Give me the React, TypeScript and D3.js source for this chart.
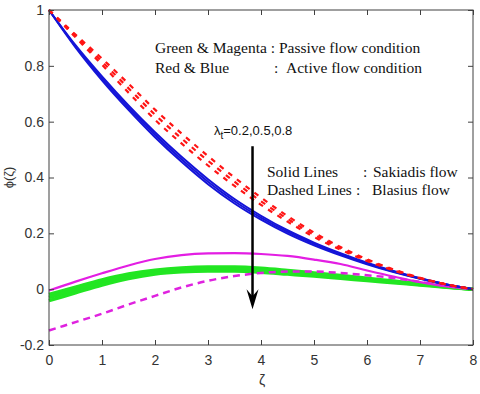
import React, { useEffect, useRef } from 'react'
import * as d3 from 'd3'

// zeta grid (step 0.5)
const zeta = [0, 0.5, 1, 1.5, 2, 2.5, 3, 3.5, 4, 4.5, 5, 5.5, 6, 6.5, 7, 7.5, 8]

// active flow, Sakiadis (solid blue), lambda_t = 0.2, 0.5, 0.8
const blueA = [1, 0.874, 0.762, 0.658, 0.562, 0.474, 0.394, 0.323, 0.263, 0.211, 0.167, 0.129, 0.095, 0.065, 0.039, 0.017, 0]
const blueB = [1, 0.870, 0.755, 0.650, 0.553, 0.465, 0.385, 0.315, 0.256, 0.205, 0.162, 0.125, 0.092, 0.063, 0.038, 0.017, 0]
const blueC = [1, 0.866, 0.748, 0.642, 0.544, 0.456, 0.376, 0.307, 0.249, 0.199, 0.157, 0.121, 0.089, 0.061, 0.037, 0.017, 0]

// active flow, Blasius (dashed red)
const redA = [1, 0.912, 0.826, 0.736, 0.643, 0.558, 0.477, 0.400, 0.328, 0.262, 0.203, 0.151, 0.107, 0.071, 0.041, 0.017, 0]
const redB = [1, 0.907, 0.815, 0.720, 0.625, 0.540, 0.460, 0.385, 0.315, 0.252, 0.195, 0.146, 0.104, 0.069, 0.040, 0.017, 0]
const redC = [1, 0.902, 0.804, 0.704, 0.607, 0.522, 0.443, 0.370, 0.302, 0.242, 0.187, 0.141, 0.101, 0.067, 0.039, 0.017, 0]

// passive flow, Sakiadis (solid green)
const greenA = [-0.019, 0.007, 0.033, 0.054, 0.068, 0.076, 0.079, 0.079, 0.075, 0.067, 0.058, 0.049, 0.039, 0.029, 0.019, 0.009, 0]
const greenB = [-0.030, -0.003, 0.024, 0.046, 0.061, 0.069, 0.072, 0.072, 0.068, 0.060, 0.052, 0.044, 0.035, 0.026, 0.017, 0.008, 0]
const greenC = [-0.041, -0.013, 0.015, 0.038, 0.054, 0.062, 0.065, 0.065, 0.061, 0.054, 0.047, 0.039, 0.031, 0.023, 0.015, 0.007, 0]

// passive flow, magenta solid (Sakiadis) and dashed (Blasius)
const magentaSolid = [-0.005, 0.027, 0.057, 0.085, 0.108, 0.122, 0.128, 0.129, 0.126, 0.119, 0.106, 0.090, 0.067, 0.045, 0.025, 0.010, 0]
const magentaDashed = [-0.148, -0.118, -0.088, -0.055, -0.024, 0.006, 0.030, 0.047, 0.058, 0.063, 0.063, 0.058, 0.050, 0.040, 0.026, 0.011, 0]

const xTicks = [0, 1, 2, 3, 4, 5, 6, 7, 8]
const yTicks = [-0.2, 0, 0.2, 0.4, 0.6, 0.8, 1]

// arrow for increasing lambda_t (data coords)
const arrowX = 3.84
const arrowFrom = 0.512
const arrowTo = -0.072

const W = 480
const H = 394
const margin = { left: 49, right: 7, top: 10, bottom: 49 }

function Chart() {
    const ref = useRef<SVGSVGElement>(null)

    useEffect(() => {
        const node = ref.current
        if (!node) return
        const svg = d3.select(node)
        svg.selectAll('*').remove()

        const x = d3.scaleLinear().domain([0, 8]).range([margin.left, W - margin.right])
        const y = d3.scaleLinear().domain([-0.2, 1]).range([H - margin.bottom, margin.top])

        const line = d3.line<number>()
            .x((d, i) => x(zeta[i]))
            .y((d) => y(d))
            .curve(d3.curveMonotoneX)

        const plot = svg.append('g')

        const draw = (data: number[], color: string, width: number, dash?: string) => {
            plot.append('path')
                .attr('d', line(data))
                .attr('fill', 'none')
                .attr('stroke', color)
                .attr('stroke-width', width)
                .attr('stroke-dasharray', dash || null)
        }

        // green (passive, solid) - drawn as a thick band
        ;[greenA, greenB, greenC].forEach((s) => draw(s, '#22e622', 3.5))
        // magenta
        draw(magentaSolid, '#e31ee3', 2.2)
        draw(magentaDashed, '#df22df', 2.5, '7,5')
        // blue
        ;[blueA, blueB, blueC].forEach((s) => draw(s, '#1414d8', 2))
        // red dashed
        ;[redA, redB, redC].forEach((s) => draw(s, '#ff1414', 2.2, '5,6'))

        // axes (inward ticks, MATLAB style)
        const tickFont = (g: any) => g.selectAll('text')
            .attr('font-family', '"Liberation Sans", Arial, sans-serif')
            .attr('font-size', 14)
            .attr('fill', '#333')

        const fmt = (d: any) => (d === 0 ? '0' : String(+(+d).toFixed(1)))

        svg.append('g')
            .attr('transform', `translate(0,${H - margin.bottom})`)
            .call(d3.axisBottom(x).tickValues(xTicks).tickSizeInner(-5).tickSizeOuter(0).tickPadding(10).tickFormat(fmt))
            .call((g) => g.select('.domain').remove())
            .call(tickFont)
        svg.append('g')
            .attr('transform', `translate(0,${margin.top})`)
            .call(d3.axisTop(x).tickValues(xTicks).tickSizeInner(-5).tickSizeOuter(0).tickFormat(() => ''))
            .call((g) => g.select('.domain').remove())
        svg.append('g')
            .attr('transform', `translate(${margin.left},0)`)
            .call(d3.axisLeft(y).tickValues(yTicks).tickSizeInner(-5).tickSizeOuter(0).tickPadding(5).tickFormat(fmt))
            .call((g) => g.select('.domain').remove())
            .call(tickFont)
        svg.append('g')
            .attr('transform', `translate(${W - margin.right},0)`)
            .call(d3.axisRight(y).tickValues(yTicks).tickSizeInner(-5).tickSizeOuter(0).tickFormat(() => ''))
            .call((g) => g.select('.domain').remove())

        svg.selectAll('.tick line').attr('stroke', '#404040')

        svg.append('rect')
            .attr('x', margin.left)
            .attr('y', margin.top)
            .attr('width', W - margin.left - margin.right)
            .attr('height', H - margin.top - margin.bottom)
            .attr('fill', 'none')
            .attr('stroke', '#404040')
            .attr('stroke-width', 1)

        // axis labels
        svg.append('text')
            .attr('transform', `translate(13,${y(0.4)}) rotate(-90)`)
            .attr('text-anchor', 'middle')
            .attr('font-family', '"Liberation Sans", Arial, sans-serif')
            .attr('font-size', 13)
            .attr('fill', '#333')
            .text('ϕ(ζ)')
        svg.append('text')
            .attr('x', x(4) + 1)
            .attr('y', H - 9)
            .attr('text-anchor', 'middle')
            .attr('font-family', '"Liberation Sans", Arial, sans-serif')
            .attr('font-size', 14)
            .attr('fill', '#333')
            .text('ζ')

        // arrow
        svg.append('line')
            .attr('x1', x(arrowX)).attr('x2', x(arrowX))
            .attr('y1', y(arrowFrom)).attr('y2', y(arrowTo) - 12)
            .attr('stroke', '#000').attr('stroke-width', 2.5)
        const tx = x(arrowX)
        const ty = y(arrowTo)
        svg.append('path')
            .attr('d', `M${tx},${ty} L${tx - 6},${ty - 20} L${tx},${ty - 13} L${tx + 6},${ty - 20} Z`)
            .attr('fill', '#000')

        // annotations
        const serif = '"Liberation Serif", "Times New Roman", serif'
        const note = (tx: number, ty: number, s: string) => svg.append('text')
            .attr('x', tx).attr('y', ty)
            .attr('font-family', serif)
            .attr('font-size', 15.5)
            .attr('fill', '#111')
            .text(s)

        note(155, 53, 'Green & Magenta : Passive flow condition')
        note(155, 73, 'Red & Blue')
        note(274, 73, ':')
        note(286, 73, 'Active flow condition')

        note(267, 177, 'Solid Lines')
        note(363, 177, ':')
        note(373, 177, 'Sakiadis flow')
        note(267, 195, 'Dashed Lines')
        note(356, 195, ':')
        note(372, 195, 'Blasius flow')

        const lam = svg.append('text')
            .attr('x', 214).attr('y', 135)
            .attr('font-family', '"Liberation Sans", Arial, sans-serif')
            .attr('font-size', 13)
            .attr('fill', '#111')
        lam.append('tspan').text('λ')
        lam.append('tspan').attr('dy', 4).attr('font-size', 10).text('t')
        lam.append('tspan').attr('dy', -4).text('=0.2,0.5,0.8')
    }, [])

    return <svg ref={ref} width={W} height={H} style={{ position: 'absolute', left: 0, top: 0, background: '#fff' }} />
}

export default function App() {
    return <Chart />
}
